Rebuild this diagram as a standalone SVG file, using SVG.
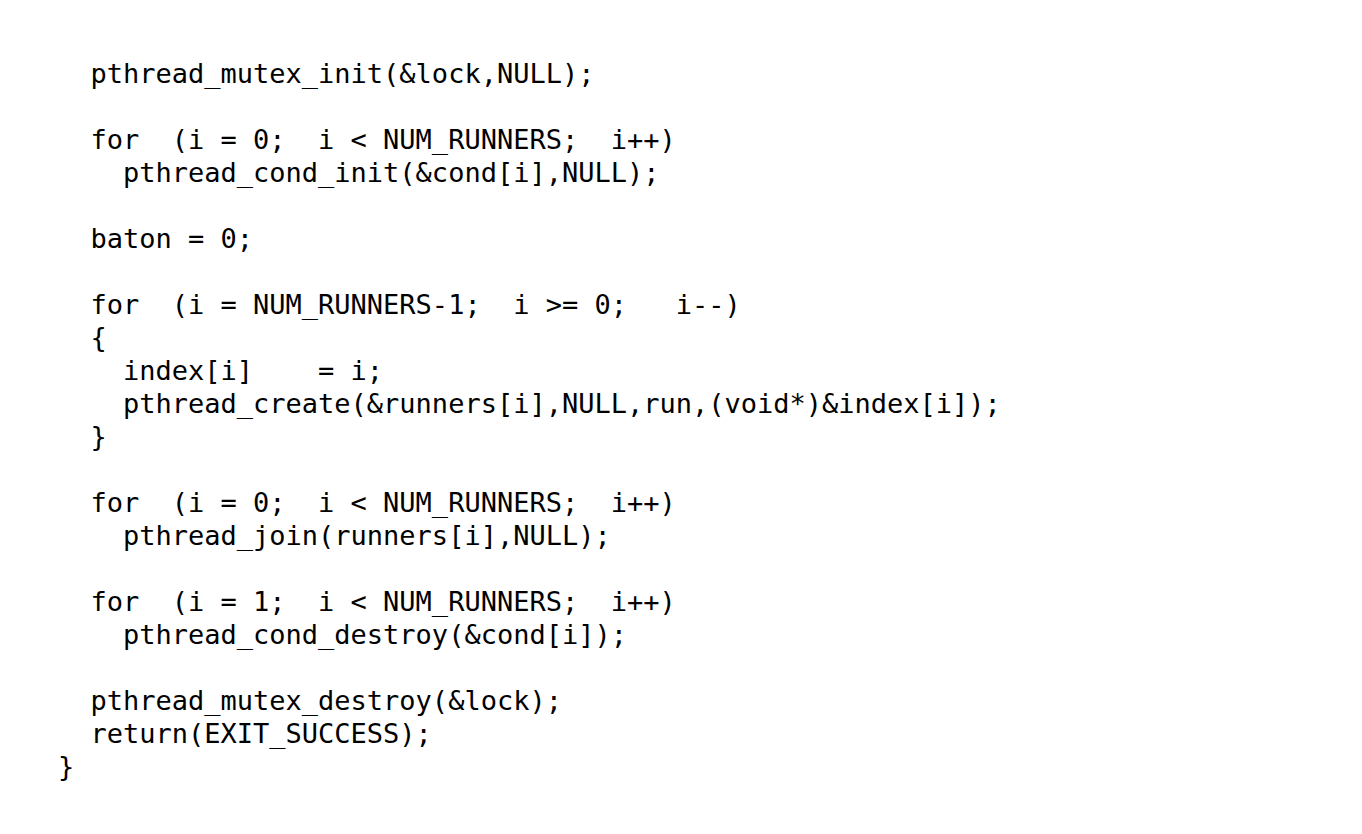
<svg xmlns="http://www.w3.org/2000/svg" width="1362" height="834" viewBox="0 0 1362 834">
<style>
text{font-family:"DejaVu Sans Mono",monospace;font-size:27px;fill:#000;white-space:pre}
</style>
<rect width="1362" height="834" fill="#fff"/>
<g id="code" xml:space="preserve">
<text x="58" y="83">  pthread_mutex_init(&amp;lock,NULL);</text>
<text x="58" y="149">  for  (i = 0;  i &lt; NUM_RUNNERS;  i++)</text>
<text x="58" y="182">    pthread_cond_init(&amp;cond[i],NULL);</text>
<text x="58" y="248">  baton = 0;</text>
<text x="58" y="314">  for  (i = NUM_RUNNERS-1;  i &gt;= 0;   i--)</text>
<text x="58" y="347">  {</text>
<text x="58" y="380">    index[i]    = i;</text>
<text x="58" y="413">    pthread_create(&amp;runners[i],NULL,run,(void*)&amp;index[i]);</text>
<text x="58" y="446">  }</text>
<text x="58" y="512">  for  (i = 0;  i &lt; NUM_RUNNERS;  i++)</text>
<text x="58" y="545">    pthread_join(runners[i],NULL);</text>
<text x="58" y="611">  for  (i = 1;  i &lt; NUM_RUNNERS;  i++)</text>
<text x="58" y="644">    pthread_cond_destroy(&amp;cond[i]);</text>
<text x="58" y="710">  pthread_mutex_destroy(&amp;lock);</text>
<text x="58" y="743">  return(EXIT_SUCCESS);</text>
<text x="58" y="776">}</text>
</g>
</svg>
